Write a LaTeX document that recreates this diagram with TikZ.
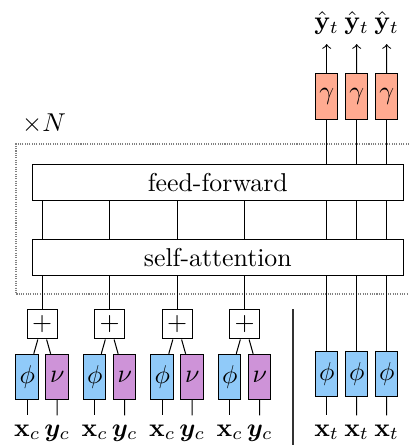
\documentclass[tikz,border=0pt]{standalone}
\usepackage{amsmath,amssymb,bm}
\definecolor{phiblue}{HTML}{90CAF9}
\definecolor{nupurple}{HTML}{CE93D8}
\definecolor{gamred}{HTML}{FFAB91}
\begin{document}
\begin{tikzpicture}[x=0.3875pt, y=-0.3875pt, node distance=11.625pt,
	embed node/.style={rectangle, draw, minimum width=8.7pt, minimum height=17.6pt, inner sep=0pt},
	plus node/.style={rectangle, draw, minimum size=11.6pt, inner sep=0pt},
	block node/.style={rectangle, draw, minimum width=143.8pt, minimum height=13.6pt, inner sep=0pt},
	var node/.style={anchor=base}]
	\useasboundingbox (0,0) rectangle (409,445);

	% repeated block
	\draw[gray, dash pattern=on 0.4pt off 0.5pt] (409,144) -| (16,294) -- (409,294);
	\node (times) at (44,124) {$\times N$};
	\node[block node] (ff) at (217.8,182.5) {feed-forward};
	\node[block node] (sa) at (217.8,257.5) {self-attention};

	% context points
	\node[plus node] (plus1) at (42.2,324) {$+$};
	\node[plus node] (plus2) at (109.7,324) {$+$};
	\node[plus node] (plus3) at (177.2,324) {$+$};
	\node[plus node] (plus4) at (244.7,324) {$+$};
	\node[embed node, fill=phiblue] (phi1) at (27.2,377) {$\phi$};
	\node[embed node, fill=nupurple] (nu1) [right of=phi1] {$\nu$};
	\node[embed node, fill=phiblue] (phi2) at (94.7,377) {$\phi$};
	\node[embed node, fill=nupurple] (nu2) [right of=phi2] {$\nu$};
	\node[embed node, fill=phiblue] (phi3) at (162.2,377) {$\phi$};
	\node[embed node, fill=nupurple] (nu3) [right of=phi3] {$\nu$};
	\node[embed node, fill=phiblue] (phi4) at (229.7,377) {$\phi$};
	\node[embed node, fill=nupurple] (nu4) [right of=phi4] {$\nu$};
	\node[var node] (xc1) at (27.2,436) {$\mathbf{x}_c$};
	\node[var node] (yc1) at (57.2,436) {$\bm{y}_c$};
	\node[var node] (xc2) at (94.7,436) {$\mathbf{x}_c$};
	\node[var node] (yc2) at (124.7,436) {$\bm{y}_c$};
	\node[var node] (xc3) at (162.2,436) {$\mathbf{x}_c$};
	\node[var node] (yc3) at (192.2,436) {$\bm{y}_c$};
	\node[var node] (xc4) at (229.7,436) {$\mathbf{x}_c$};
	\node[var node] (yc4) at (259.7,436) {$\bm{y}_c$};

	% target points
	\node[embed node, fill=phiblue] (tphi1) at (326.7,374) {$\phi$};
	\node[embed node, fill=phiblue] (tphi2) [right of=tphi1] {$\phi$};
	\node[embed node, fill=phiblue] (tphi3) [right of=tphi2] {$\phi$};
	\node[embed node, fill=gamred] (gam1) at (326.7,96.5) {$\gamma$};
	\node[embed node, fill=gamred] (gam2) [right of=gam1] {$\gamma$};
	\node[embed node, fill=gamred] (gam3) [right of=gam2] {$\gamma$};
	\node[var node] (xt1) at (326.7,436) {$\mathbf{x}_t$};
	\node[var node] (xt2) at (356.7,436) {$\mathbf{x}_t$};
	\node[var node] (xt3) at (386.7,436) {$\mathbf{x}_t$};
	\node[var node] (yh1) at (326.7,30) {$\hat{\mathbf{y}}_t$};
	\node[var node] (yh2) at (356.7,30) {$\hat{\mathbf{y}}_t$};
	\node[var node] (yh3) at (386.7,30) {$\hat{\mathbf{y}}_t$};

	\coordinate (sep top) at (293,309);
	\coordinate (sep bottom) at (293,445);
	\draw[black!80] (sep top) -- (sep bottom);

	\path
		(phi1) edge (plus1) edge (xc1)
		(nu1) edge (plus1) edge (yc1)
		(phi2) edge (plus2) edge (xc2)
		(nu2) edge (plus2) edge (yc2)
		(phi3) edge (plus3) edge (xc3)
		(nu3) edge (plus3) edge (yc3)
		(phi4) edge (plus4) edge (xc4)
		(nu4) edge (plus4) edge (yc4)
		(plus1) edge (plus1 |- sa.south)
		(plus2) edge (plus2 |- sa.south)
		(plus3) edge (plus3 |- sa.south)
		(plus4) edge (plus4 |- sa.south)
		(sa.north -| plus1) edge (ff.south -| plus1)
		(sa.north -| plus2) edge (ff.south -| plus2)
		(sa.north -| plus3) edge (ff.south -| plus3)
		(sa.north -| plus4) edge (ff.south -| plus4);

	\path
		(tphi1) edge (xt1) edge (tphi1 |- sa.south)
		(tphi2) edge (xt2) edge (tphi2 |- sa.south)
		(tphi3) edge (xt3) edge (tphi3 |- sa.south)
		(sa.north -| tphi1) edge (ff.south -| tphi1)
		(sa.north -| tphi2) edge (ff.south -| tphi2)
		(sa.north -| tphi3) edge (ff.south -| tphi3)
		(ff.north -| tphi1) edge (gam1)
		(ff.north -| tphi2) edge (gam2)
		(ff.north -| tphi3) edge (gam3)
		(gam1) edge[->] (yh1)
		(gam2) edge[->] (yh2)
		(gam3) edge[->] (yh3);
\end{tikzpicture}
\end{document}
